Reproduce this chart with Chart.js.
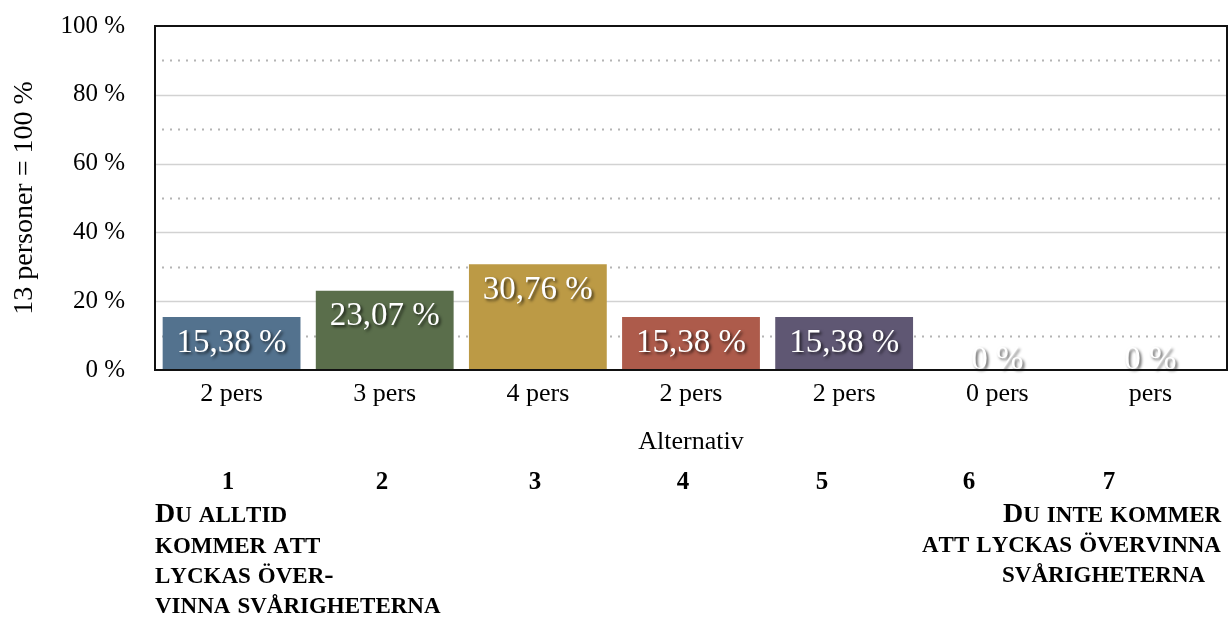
<!DOCTYPE html>
<html>
<head>
<meta charset="utf-8">
<script src="https://cdn.jsdelivr.net/npm/chart.js@4"></script>
<style>
  html, body { margin: 0; padding: 0; background: #fff; }
  #wrap { width: 1229px; height: 619px; }
</style>
</head>
<body>
<div id="wrap"><canvas id="ch"></canvas></div>
<script>
const labels = ['2 pers', '3 pers', '4 pers', '2 pers', '2 pers', '0 pers', 'pers']
const values = [15.38, 23.07, 30.76, 15.38, 15.38, 0, 0]
const valueText = ['15,38 %', '23,07 %', '30,76 %', '15,38 %', '15,38 %', '0 %', '0 %']
const colors = ['#53728e', '#5a6e4b', '#bc9a45', '#ad5b4b', '#5f5773', '#888888', '#888888']
const yTicks = [0, 20, 40, 60, 80, 100]
const scaleNums = ['1', '2', '3', '4', '5', '6', '7']
const leftCaption = ['Du alltid', 'kommer att', 'lyckas över-', 'vinna svårigheterna']
const rightCaption = ['Du inte kommer', 'att lyckas övervinna', 'svårigheterna']

// caption layout (pixels)
const numX = [228, 382, 535, 683, 822, 969, 1109]
const numY = 489
const leftX = [155, 155, 155, 155]
const leftY = [522, 553, 583, 613]
const rightX = [1003, 922, 1002]
const rightY = [522, 552, 582]

const SERIF = '"Liberation Serif", "Times New Roman", serif'

function smallCaps(ctx, text, x, y) {
  let cx = x
  for (const ch of text) {
    const lower = ch !== ch.toUpperCase()
    ctx.font = `bold ${lower ? 23 : 28}px ${SERIF}`
    const c = ch.toUpperCase()
    ctx.fillText(c, cx, y)
    cx += ctx.measureText(c).width
  }
}

const framePlugin = {
  id: 'frame',
  beforeDatasetsDraw(chart) {
    const { ctx, chartArea: a, scales: { y } } = chart
    ctx.save()
    for (let v = 10; v < 100; v += 10) {
      const py = Math.round(y.getPixelForValue(v)) + 0.5
      ctx.beginPath()
      if (v % 20 === 0) {
        ctx.strokeStyle = '#d2d2d2'
        ctx.lineWidth = 1.5
        ctx.setLineDash([])
        ctx.moveTo(a.left, py); ctx.lineTo(a.right, py)
      } else {
        ctx.strokeStyle = '#b4b4b4'
        ctx.lineWidth = 2
        ctx.setLineDash([2, 6])
        ctx.moveTo(a.left + 7, py); ctx.lineTo(a.right - 6, py)
      }
      ctx.stroke()
    }
    ctx.restore()
  },
  afterDatasetsDraw(chart) {
    const { ctx, chartArea: a } = chart
    const meta = chart.getDatasetMeta(0)
    ctx.save()
    ctx.font = `33px ${SERIF}`
    ctx.textAlign = 'center'
    ctx.textBaseline = 'middle'
    ctx.fillStyle = '#ffffff'
    ctx.shadowColor = 'rgba(0,0,0,0.65)'
    ctx.shadowOffsetX = 2
    ctx.shadowOffsetY = 2
    ctx.shadowBlur = 3
    meta.data.forEach((bar, i) => {
      const cy = Math.min(bar.y + 26, bar.base - 10)
      ctx.fillText(valueText[i], bar.x, cy)
    })
    ctx.restore()

    ctx.save()
    ctx.strokeStyle = '#111'
    ctx.lineWidth = 2
    ctx.strokeRect(a.left, a.top, a.right - a.left, a.bottom - a.top)
    ctx.restore()
  },
  afterDraw(chart) {
    const { ctx } = chart
    ctx.save()
    ctx.fillStyle = '#000'
    ctx.textBaseline = 'alphabetic'
    ctx.textAlign = 'center'
    ctx.font = `bold 25px ${SERIF}`
    scaleNums.forEach((n, i) => ctx.fillText(n, numX[i], numY))
    ctx.textAlign = 'left'
    leftCaption.forEach((t, i) => smallCaps(ctx, t, leftX[i], leftY[i]))
    rightCaption.forEach((t, i) => smallCaps(ctx, t, rightX[i], rightY[i]))
    ctx.restore()
  }
}

new Chart(document.getElementById('ch'), {
  type: 'bar',
  data: {
    labels,
    datasets: [{ data: values, backgroundColor: colors, borderWidth: 0, categoryPercentage: 1, barPercentage: 0.9 }]
  },
  options: {
    responsive: true,
    maintainAspectRatio: false,
    animation: false,
    layout: { padding: { top: 26, right: 2, bottom: 0, left: 0 } },
    plugins: { legend: { display: false }, tooltip: { enabled: false } },
    scales: {
      x: {
        grid: { display: false, drawTicks: false },
        border: { display: false },
        ticks: { color: '#000', padding: 9, font: { family: SERIF, size: 26 } },
        title: { display: true, text: 'Alternativ', color: '#000', padding: { top: 0, bottom: 161 }, font: { family: SERIF, size: 26 } },
        afterFit(s) { s.height = 249 }
      },
      y: {
        min: 0,
        max: 100,
        afterBuildTicks(s) { s.ticks = yTicks.map(v => ({ value: v })) },
        grid: { display: false, drawTicks: false },
        border: { display: false },
        ticks: { color: '#000', padding: 30, font: { family: SERIF, size: 25 }, callback: v => v + ' %' },
        title: { display: true, text: '13 personer = 100 %', color: '#000', padding: { top: 8, bottom: 0 }, font: { family: SERIF, size: 28 } },
        afterFit(s) { s.width = 155; s.paddingTop = 0; s.paddingBottom = 0 }
      }
    }
  },
  plugins: [framePlugin]
})
</script>
</body>
</html>
